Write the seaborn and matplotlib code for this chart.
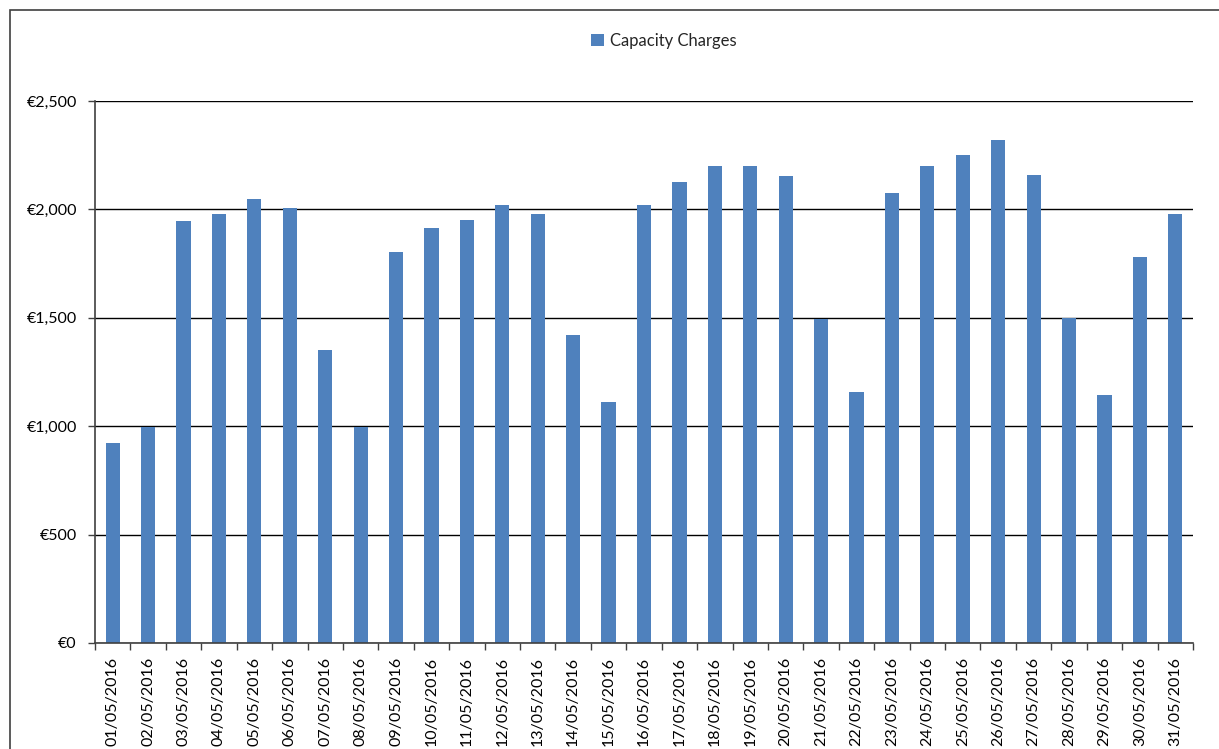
import matplotlib
matplotlib.use("Agg")
import matplotlib.pyplot as plt
import matplotlib.ticker as mticker
from matplotlib.patches import Rectangle, Patch
import seaborn as sns
import pandas as pd
import numpy as np

dates = [f"{d:02d}/05/2016" for d in range(1, 32)]
values = [922, 996, 1946, 1979, 2048, 2006, 1351, 996, 1803, 1914,
          1951, 2020, 1979, 1420, 1111, 2020, 2126, 2200, 2200, 2154,
          1494, 1158, 2075, 2200, 2251, 2320, 2159, 1500, 1144, 1780, 1979]
series_name = "Capacity Charges"
yticks = [0, 500, 1000, 1500, 2000, 2500]

sns.set_theme(style="white")
plt.rcParams['font.family'] = ['Lato', 'DejaVu Sans']

W, H = 1219, 749
fig = plt.figure(figsize=(W / 100, H / 100), dpi=100)
fig.patch.set_facecolor("white")

# outer chart frame (cut off at right/bottom)
fig.add_artist(Rectangle((10 / W, -0.1), 1.2, 1 - 10 / H + 0.1,
                         transform=fig.transFigure, fill=False,
                         edgecolor="#404040", linewidth=1.2))

ax = fig.add_axes([95 / W, 1 - 643 / H, (1193 - 95) / W, (643 - 101) / H])
df = pd.DataFrame({"date": dates, "value": values})
sns.barplot(data=df, x="date", y="value", color="#4F81BD", saturation=1,
            width=0.4, ax=ax, zorder=3, linewidth=0, edgecolor="none")

ax.set_ylim(0, 2500)
ax.set_xlim(-0.5, len(dates) - 0.5)
ax.set_yticks(yticks)
ax.yaxis.set_major_formatter(mticker.FuncFormatter(lambda v, p: f"€{int(v):,}"))
ax.grid(axis="y", color="black", linewidth=1, zorder=1)
ax.set_axisbelow(True)
ax.set_xlabel("")
ax.set_ylabel("")

for s in ["top", "right"]:
    ax.spines[s].set_visible(False)
for s in ["left", "bottom"]:
    ax.spines[s].set_color("#404040")
    ax.spines[s].set_linewidth(1.2)
    ax.spines[s].set_zorder(4)

ax.tick_params(axis="y", which="major", left=True, length=5, width=1,
               color="#404040", labelsize=11.5, pad=8, labelcolor="black")
ax.set_xticks(range(len(dates)))
ax.set_xticklabels(dates, rotation=90, fontsize=11.5, color="black")
ax.tick_params(axis="x", which="major", length=0, pad=10)
ax.set_xticks(np.arange(-0.5, len(dates), 1.0), minor=True)
ax.tick_params(axis="x", which="minor", bottom=True, length=5, width=1,
               color="#404040")

handles = [Patch(facecolor="#4F81BD", edgecolor="none", label=series_name)]
fig.legend(handles=handles, loc="center", bbox_to_anchor=(664 / W, 1 - 41 / H),
           frameon=False, fontsize=12, handlelength=0.75, handleheight=0.75,
           handletextpad=0.4)

fig.savefig("out.png", dpi=100, facecolor="white")
